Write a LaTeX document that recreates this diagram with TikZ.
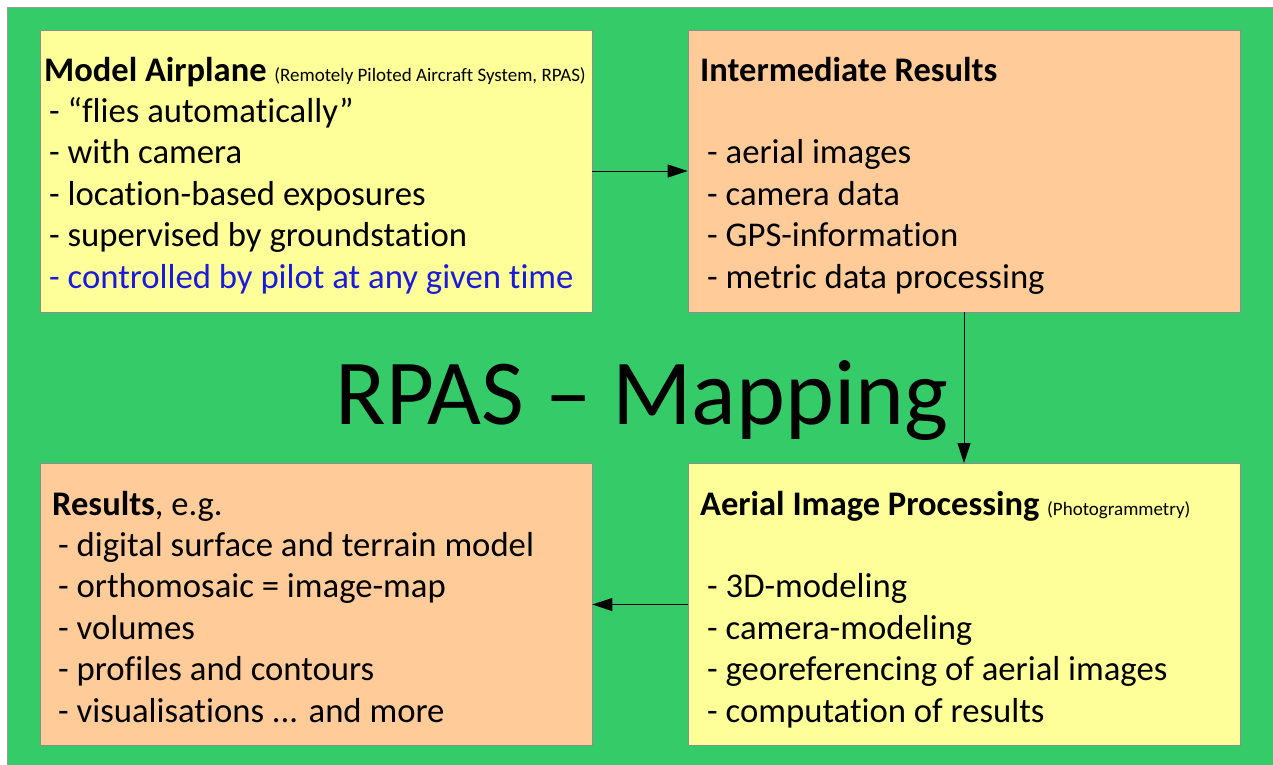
\documentclass[tikz,border=0pt]{standalone}
\usepackage{fontspec}
\setmainfont[Ligatures=NoCommon]{Carlito}
\usetikzlibrary{arrows.meta}
\definecolor{bggreen}{HTML}{35CB68}
\definecolor{boxyellow}{HTML}{FFFF99}
\definecolor{boxpeach}{HTML}{FFCC99}
\definecolor{txtblue}{HTML}{1A1ADC}
\begin{document}
\begin{tikzpicture}[x=1pt,y=-1pt,
  box/.style={draw=black!45,line width=0.8pt,minimum width=552pt,minimum height=282pt,inner sep=0pt},
  txt/.style={anchor=base west,inner sep=0pt,font=\fontsize{34.7}{41}\selectfont},
  ttl/.style={anchor=base west,inner sep=0pt,font=\fontsize{34.5}{40}\selectfont\bfseries},
  arr/.style={-{Triangle[length=20pt,width=13pt]},line width=1pt}]
\useasboundingbox (0,0) rectangle (1273,764);
\fill[white] (0,0) rectangle (1273,764);
\draw[fill=bggreen,draw=black!40,line width=1pt] (7,7) rectangle (1274,765);
% boxes
\node[box,fill=boxyellow] (b1) at (316,171) {};
\node[box,fill=boxpeach] (b2) at (964,171) {};
\node[box,fill=boxpeach] (b3) at (316,604.5) {};
\node[box,fill=boxyellow] (b4) at (964,604.5) {};
% box 1
\node[ttl] (t1) at (44,81) {Model Airplane {\mdseries\fontsize{19}{22}\selectfont(Remotely Piloted Aircraft System, RPAS)}};
\node[txt] (l11) at (49,122) {- “flies automatically”};
\node[txt] (l12) at (49,163.5) {- with camera};
\node[txt] (l13) at (49,205) {- location-based exposures};
\node[txt] (l14) at (49,246.5) {- supervised by groundstation};
\node[txt,text=txtblue] (l15) at (49,288) {- controlled by pilot at any given time};
% box 2
\node[ttl] (t2) at (700,81) {Intermediate Results};
\node[txt] (l21) at (707,163.5) {- aerial images};
\node[txt] (l22) at (707,205) {- camera data};
\node[txt] (l23) at (707,246.5) {- GPS-information};
\node[txt] (l24) at (707,288) {- metric data processing};
% box 3
\node[ttl] (t3) at (52,515) {Results\mdseries, e.g.};
\node[txt] (l31) at (58,556) {- digital surface and terrain model};
\node[txt] (l32) at (58,597.5) {- orthomosaic = image-map};
\node[txt] (l33) at (58,639) {- volumes};
\node[txt] (l34) at (58,680.5) {- profiles and contours};
\node[txt] (l35) at (58,722) {- visualisations ... and more};
% box 4
\node[ttl] (t4) at (700,515) {Aerial Image Processing {\mdseries\fontsize{19}{22}\selectfont(Photogrammetry)}};
\node[txt] (l41) at (707,597.5) {- 3D-modeling};
\node[txt] (l42) at (707,639) {- camera-modeling};
\node[txt] (l43) at (707,680.5) {- georeferencing of aerial images};
\node[txt] (l44) at (707,722) {- computation of results};
% title
\node[anchor=base,inner sep=0pt,font=\fontsize{93}{108}\selectfont] (title) at (642,424) {RPAS – Mapping};
% arrows
\draw[arr] (b1.east) -- (b2.west);
\draw[arr] (b2.south) -- (b4.north);
\draw[arr] (b4.west) -- (b3.east);
\end{tikzpicture}
\end{document}
